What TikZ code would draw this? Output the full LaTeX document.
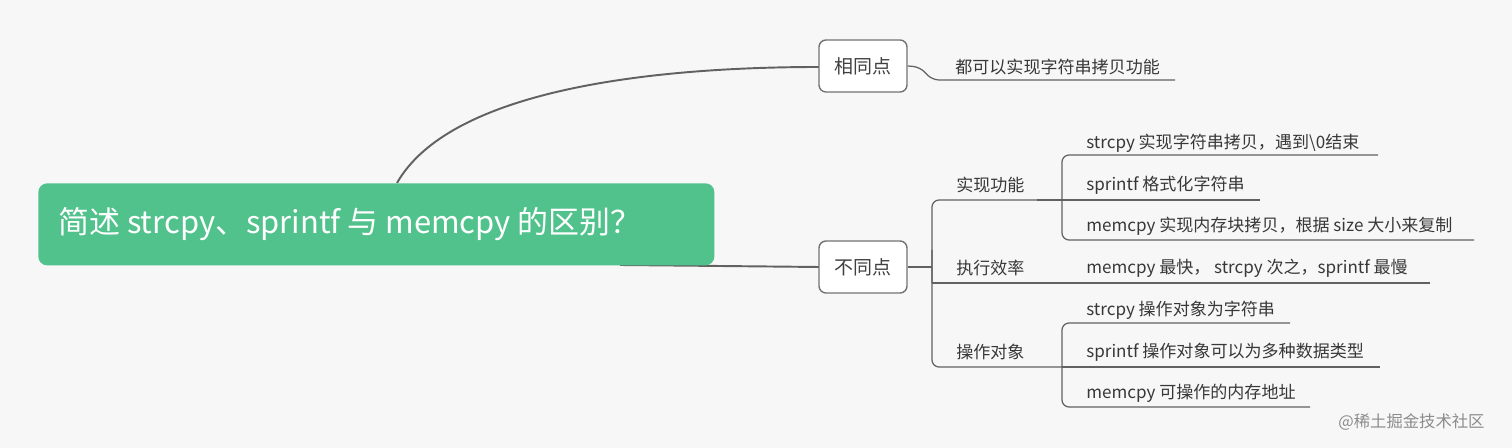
\documentclass[tikz,border=0pt]{standalone}
\usepackage{fontspec}
\setmainfont{Noto Sans CJK SC}
\definecolor{rootg}{RGB}{82,194,141}
\begin{document}
\begin{tikzpicture}[x=0.02cm,y=-0.02cm,
  line/.style={draw=black!62,line width=1.1pt},
  thin/.style={draw=black!62,line width=0.7pt,rounded corners=4pt},
  box/.style={draw=black!55,fill=white,rounded corners=4pt,line width=0.8pt,minimum width=88*0.02cm,minimum height=52*0.02cm,font=\fontsize{10.8pt}{12pt}\selectfont,text=black!75},
  leaf/.style={anchor=west,inner sep=0pt,font=\fontsize{9.7pt}{11pt}\selectfont,text=black!78}]
\fill[black!3] (0,0) rectangle (1512,448);
\useasboundingbox (0,0) rectangle (1512,448);
% edges from root
\draw[line] (397,183) .. controls (450,90) and (650,67) .. (819,67);
\draw[line] (620,265) -- (819,267);
% root
\node[fill=rootg,rounded corners=5pt,minimum width=676*0.02cm,minimum height=82*0.02cm,anchor=north west,inner sep=0pt] (root) at (38,183) {};
\node[anchor=west,text=white,font=\fontsize{17.6pt}{20pt}\selectfont,inner sep=0pt] (rt) at (58,224) {简述 strcpy、sprintf 与 memcpy 的区别？};
\node[box] (same) at (863,66) {相同点};
\node[box] (diff) at (863,267) {不同点};
% same leaf
\node[leaf] (s1) at (955,67) {都可以实现字符串拷贝功能};
\draw[thin] (same.east) -- (920,67) -- (932,80) -- (1175,80);
% diff branch
\draw[thin] (diff.east) -- (932,267);
\draw[thin] (932,283) -- (932,215) -- (932,200) -- (1037,200);
\draw[thin] (932,250) -- (932,367) -- (1062,367);
\draw[thin] (932,283) -- (1062,283) -- (1430,283);
\node[leaf] (a) at (956,185) {实现功能};
\node[leaf] (b) at (956,268) {执行效率};
\node[leaf] (c) at (956,352) {操作对象};
% a children
\draw[thin] (1037,200) -- (1062,200);
\draw[thin] (1378,155) -- (1062,155) -- (1062,240) -- (1474,240);
\draw[thin] (1062,200) -- (1260,200);
\node[leaf] (a1) at (1086,143) {strcpy 实现字符串拷贝，遇到\textbackslash 0结束};
\node[leaf] (a2) at (1086,185) {sprintf 格式化字符串};
\node[leaf] (a3) at (1086,226) {memcpy 实现内存块拷贝，根据 size 大小来复制};
\node[leaf] (b1) at (1086,268) {memcpy 最快， strcpy 次之，sprintf 最慢};
% c children
\draw[thin] (1290,323) -- (1062,323) -- (1062,407) -- (1310,407);
\draw[thin] (1062,367) -- (1380,367);
\node[leaf] (c1) at (1086,310) {strcpy 操作对象为字符串};
\node[leaf] (c2) at (1086,352) {sprintf 操作对象可以为多种数据类型};
\node[leaf] (c3) at (1086,393) {memcpy 可操作的内存地址};
\node[anchor=west,inner sep=0pt,text=black!45,font=\fontsize{9.3pt}{11pt}\selectfont] (wm) at (1338,422) {@稀土掘金技术社区};
\end{tikzpicture}
\end{document}
